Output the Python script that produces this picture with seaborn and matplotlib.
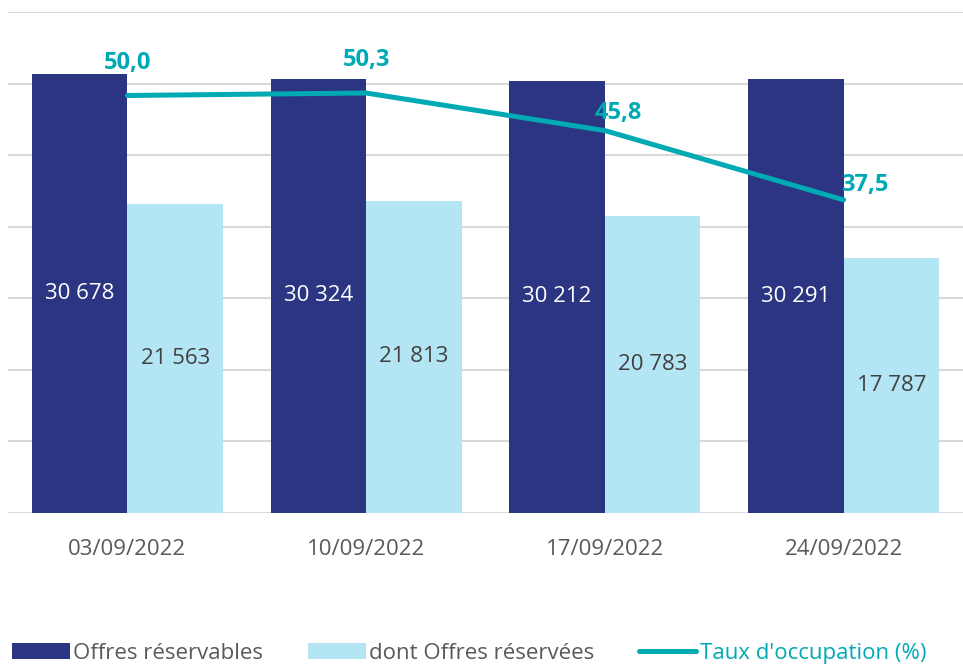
import matplotlib
matplotlib.use("Agg")
import matplotlib.pyplot as plt
import seaborn as sns
import pandas as pd
import numpy as np
from matplotlib.patches import Patch
from matplotlib.lines import Line2D

dates = ["03/09/2022", "10/09/2022", "17/09/2022", "24/09/2022"]
offres_reservables = [30678, 30324, 30212, 30291]
offres_reservees = [21563, 21813, 20783, 17787]
taux_occupation = [50.0, 50.3, 45.8, 37.5]

series_names = ["Offres réservables", "dont Offres réservées"]
dark = "#2B3582"
light = "#B4E5F4"
teal = "#00AAB5"
gray = "#595959"


def fmt_thousands(v):
    return f"{v:,}".replace(",", " ")


def main():
    sns.set_theme(style="white")
    plt.rcParams["font.family"] = ["Open Sans", "DejaVu Sans"]

    df = pd.DataFrame({
        "date": dates * 2,
        "valeur": offres_reservables + offres_reservees,
        "serie": [series_names[0]] * len(dates) + [series_names[1]] * len(dates),
    })

    fig = plt.figure(figsize=(9.63, 6.64), dpi=100)
    ax = fig.add_axes([8 / 963, 151 / 664, 955 / 963, 501 / 664])

    sns.barplot(data=df, x="date", y="valeur", hue="serie",
                palette=[dark, light], width=0.8, gap=0, saturation=1,
                linewidth=0, edgecolor="none", legend=False, ax=ax)

    # line on secondary axis
    ax2 = ax.twinx()
    xpos = np.arange(len(dates))
    sns.lineplot(x=xpos, y=taux_occupation, color=teal, linewidth=3.6,
                 solid_capstyle="round", ax=ax2)
    ax2.set_ylim(0, 60)
    ax2.set_xlim(-0.5, 3.5)
    ax2.axis("off")
    # label offsets in pixels, as placed in the original chart
    label_offsets = [(0, 32), (0, 33), (13, 18), (21, 15)]
    for x, v, (dx, dy) in zip(xpos, taux_occupation, label_offsets):
        ax2.annotate(f"{v:.1f}".replace(".", ","), (x, v),
                     xytext=(dx * 0.72, dy * 0.72),
                     textcoords="offset points", ha="center", va="center",
                     color=teal, fontsize=17, fontweight="bold")

    ax.set_ylim(0, 35000)
    ax.set_yticks(np.arange(0, 35001, 5000))
    ax.set_xlim(-0.5, 3.5)
    ax.yaxis.grid(True, color="#D9D9D9", linewidth=1.5)
    ax.set_axisbelow(True)
    for s in ax.spines.values():
        s.set_visible(False)
    ax.tick_params(axis="y", left=False, right=False, labelleft=False, labelright=False)
    ax.tick_params(axis="x", bottom=False, labelsize=16, labelcolor=gray, pad=13)
    ax.set_xlabel("")
    ax.set_ylabel("")

    # bar value labels
    label_colors = ["white", "#404040"]
    for cont, col in zip(ax.containers, label_colors):
        ax.bar_label(cont, labels=[fmt_thousands(int(v)) for v in cont.datavalues],
                     label_type="center", color=col, fontsize=16)

    handles = [
        Patch(facecolor=dark, edgecolor="none"),
        Patch(facecolor=light, edgecolor="none"),
        Line2D([0], [0], color=teal, linewidth=3.6, solid_capstyle="round"),
    ]
    leg = fig.legend(handles, series_names + ["Taux d'occupation (%)"],
                     loc="lower left", bbox_to_anchor=(-0.008, -0.03), ncol=3,
                     frameon=False, fontsize=16, handlelength=2.6,
                     handleheight=0.72, handletextpad=0.15, columnspacing=2.0)
    for t, c in zip(leg.get_texts(), [gray, gray, teal]):
        t.set_color(c)

    fig.savefig("out.png", dpi=100)
    plt.close(fig)


if __name__ == "__main__":
    main()
